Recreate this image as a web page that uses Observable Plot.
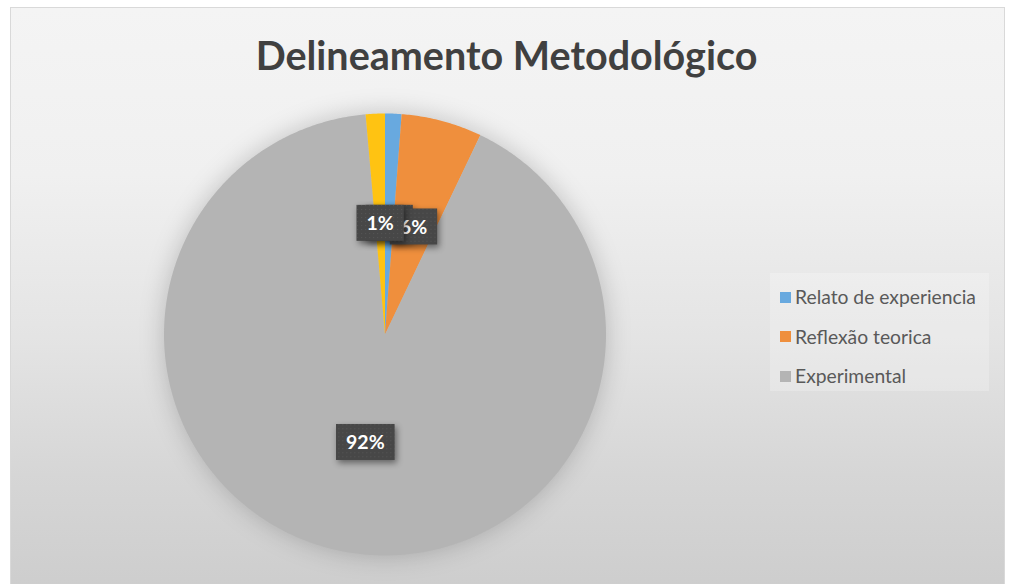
<!DOCTYPE html>
<html><head><meta charset="utf-8">
<script src="https://cdn.jsdelivr.net/npm/d3@7"></script>
<script src="https://cdn.jsdelivr.net/npm/@observablehq/plot@0.6"></script>
<style>
html,body{margin:0;padding:0;background:#fff;}
#chart{position:relative;width:1013px;height:584px;overflow:hidden;font-family:Lato,"Open Sans",sans-serif;}
#frame{position:absolute;left:10px;top:7px;width:995px;height:600px;border:1px solid #d9d9d9;box-sizing:border-box;
  background:linear-gradient(180deg,#f4f4f4 0%,#f0f0f0 28%,#e4e4e4 55%,#d6d6d6 78%,#cccccc 100%);}
#title{position:absolute;left:0;width:1013px;top:35px;text-align:center;font-weight:700;font-size:39.5px;line-height:39.5px;color:#404040;white-space:nowrap;}
#legend{position:absolute;left:770px;top:273px;width:219px;height:118px;background:rgba(255,255,255,0.22);}
.item{position:absolute;left:10px;font-size:19.3px;line-height:22px;color:#595959;display:flex;align-items:center;white-space:nowrap;}
.sw{width:11px;height:11px;margin-right:4px;}
#chart svg{position:absolute;left:0;top:0;}
</style>
</head><body>
<div id="chart"><div id="frame"></div></div>
<script>
// ---- data ----
const title = "Delineamento Metodológico";
const categories = ["Relato de experiencia", "Reflexão teorica", "Experimental", "Outro"];
const values = [1.2, 5.9, 91.5, 1.4];
const colors = ["#68a9df", "#ef8f3d", "#b4b4b4", "#ffc312"];
const legendCategories = ["Relato de experiencia", "Reflexão teorica", "Experimental"];

// ---- build ----
const data = categories.map((c, i) => ({category: c, value: values[i]}));
const total = d3.sum(values);
const arcs = d3.pie().sort(null).value(d => d.value)(data);
const pt = (a, r) => [r * Math.sin(a), -r * Math.cos(a)];

const slices = arcs.map(a => {
  const n = Math.max(2, Math.ceil((a.endAngle - a.startAngle) / (Math.PI / 360)));
  const ring = [[0, 0]];
  for (let k = 0; k <= n; k++) ring.push(pt(a.startAngle + (a.endAngle - a.startAngle) * k / n, 1));
  ring.push([0, 0]);
  return {type: "Feature", properties: {category: a.data.category}, geometry: {type: "Polygon", coordinates: [ring]}};
});
const circleRing = d3.range(0, 361).map(d => pt(d * Math.PI / 180, 1));
const circle = {type: "Polygon", coordinates: [circleRing]};

const labels = arcs.map(a => {
  const [x, y] = pt((a.startAngle + a.endAngle) / 2, 0.5);
  return {x, y, label: Math.round(a.data.value / total * 100) + "%"};
});

const plot = Plot.plot({
  width: 1013, height: 584,
  marginLeft: 163.5, marginRight: 407.5, marginTop: 113, marginBottom: 29,
  projection: {type: "identity", domain: circle, inset: 0},
  color: {domain: categories, range: colors},
  style: {background: "transparent", overflow: "visible"},
  marks: [
    Plot.geo(slices, {fill: d => d.properties.category}),
    Plot.text(labels, {x: "x", y: "y", text: "label", fill: "white", fontWeight: "bold", fontSize: 19.5,
      fontFamily: "Lato, 'Open Sans', sans-serif"})
  ]
});
const chart = document.getElementById("chart");
chart.appendChild(plot);

// title
const t = document.createElement("div"); t.id = "title"; t.textContent = title; chart.appendChild(t);
// legend
const lg = document.createElement("div"); lg.id = "legend";
legendCategories.forEach((c, i) => {
  const it = document.createElement("div"); it.className = "item"; it.style.top = (13 + i * 39.5) + "px";
  const sw = document.createElement("span"); sw.className = "sw"; sw.style.background = colors[categories.indexOf(c)];
  const tx = document.createElement("span"); tx.textContent = c;
  it.appendChild(sw); it.appendChild(tx); lg.appendChild(it);
});
chart.appendChild(lg);

// styling: pie glow, label boxes
const ns = "http://www.w3.org/2000/svg";
const defs = document.createElementNS(ns, "defs");
defs.innerHTML = '<pattern id="dots" width="4" height="4" patternUnits="userSpaceOnUse"><rect width="4" height="4" fill="#474747"/><rect x="1" y="1" width="1" height="1" fill="#575757"/></pattern>';
plot.insertBefore(defs, plot.firstChild);
const geoG = plot.querySelector('g[aria-label="geo"]');
if (geoG) geoG.style.filter = "drop-shadow(0 0 12px rgba(0,0,0,0.2))";
plot.querySelectorAll('g[aria-label="text"] text').forEach(tx => {
  const bb = tx.getBBox();
  const r = document.createElementNS(ns, "rect");
  const h = 36, padX = 10;
  r.setAttribute("x", bb.x - padX);
  r.setAttribute("y", bb.y + bb.height / 2 - h / 2);
  r.setAttribute("width", bb.width + 2 * padX);
  r.setAttribute("height", h);
  if (tx.getAttribute("transform")) r.setAttribute("transform", tx.getAttribute("transform"));
  r.setAttribute("fill", "url(#dots)");
  r.style.filter = "drop-shadow(2px 3px 3px rgba(0,0,0,0.45))";
  tx.parentNode.insertBefore(r, tx);
});
</script>
</body></html>
